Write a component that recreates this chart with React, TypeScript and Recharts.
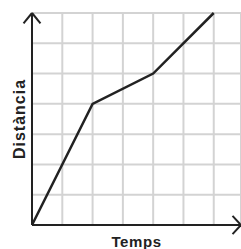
import { LineChart, Line, XAxis, YAxis, CartesianGrid, ReferenceLine } from 'recharts'

const times = [0, 2, 4, 6]
const distances = [0, 4, 5, 7]
const xTicks = [0, 1, 2, 3, 4, 5, 6]
const yTicks = [0, 1, 2, 3, 4, 5, 6, 7]
const xLabel = 'Temps'
const yLabel = 'Distància'

const data = times.map((t, i) => ({ t, d: distances[i] }))

const ink = '#222'
const font = 'Liberation Sans, Arial, sans-serif'
const noTick = () => <g />

export default function App() {
  return (
    <div style={{ position: 'absolute', left: 0, top: 0, background: '#fff' }}>
      <LineChart width={241} height={249} data={data} margin={{ top: 13, right: 0, left: 0, bottom: 0 }}>
        <CartesianGrid stroke="#d3d3d3" strokeWidth={2} />
        <XAxis
          dataKey="t"
          type="number"
          domain={[0, 6.9]}
          allowDataOverflow
          ticks={xTicks}
          tick={noTick}
          tickLine={false}
          height={24}
          axisLine={{ stroke: ink, strokeWidth: 2 }}
          label={{ value: xLabel, position: 'insideBottom', offset: 2, style: { fontFamily: font, fontWeight: 700, fontSize: 15, fill: ink, letterSpacing: 0.6 } }}
        />
        <YAxis
          type="number"
          domain={[0, 7]}
          ticks={yTicks}
          tick={noTick}
          tickLine={false}
          width={32}
          axisLine={{ stroke: ink, strokeWidth: 2 }}
          label={{ value: yLabel, angle: -90, position: 'insideLeft', offset: 19, style: { textAnchor: 'middle', fontFamily: font, fontWeight: 700, fontSize: 16, fill: ink, letterSpacing: 1 } }}
        />
        {/* arrow heads */}
        <ReferenceLine segment={[{ x: -0.28, y: 6.66 }, { x: 0, y: 7 }]} stroke={ink} strokeWidth={2} ifOverflow="visible" />
        <ReferenceLine segment={[{ x: 0.28, y: 6.66 }, { x: 0, y: 7 }]} stroke={ink} strokeWidth={2} ifOverflow="visible" />
        <ReferenceLine segment={[{ x: 6.62, y: 0.3 }, { x: 6.9, y: 0 }]} stroke={ink} strokeWidth={2} ifOverflow="visible" />
        <ReferenceLine segment={[{ x: 6.62, y: -0.3 }, { x: 6.9, y: 0 }]} stroke={ink} strokeWidth={2} ifOverflow="visible" />
        <Line type="linear" dataKey="d" stroke={ink} strokeWidth={2.5} dot={false} isAnimationActive={false} />
      </LineChart>
    </div>
  )
}
